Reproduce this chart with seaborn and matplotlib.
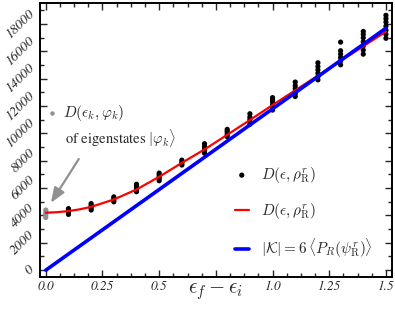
import numpy as np
import pandas as pd
import matplotlib
matplotlib.use("Agg")
import matplotlib.pyplot as plt
from matplotlib.ticker import MultipleLocator, FixedLocator
import seaborn as sns

# scattered D(eps, rho) values, several per energy
dot_x = [0.1] * 5 + [0.2] * 5 + [0.3] * 4 + [0.4] * 5 + [0.5] * 5 + [0.6] * 4 \
    + [0.7] * 5 + [0.8] * 5 + [0.9] * 5 + [1.0] * 6 + [1.1] * 6 + [1.2] * 6 \
    + [1.3] * 6 + [1.4] * 7 + [1.5] * 7
dot_y = [4080, 4200, 4300, 4400, 4500,
         4400, 4520, 4640, 4760, 4870,
         5000, 5120, 5240, 5360,
         5740, 5880, 6020, 6160, 6280,
         6540, 6680, 6820, 6960, 7100,
         7690, 7800, 7920, 8050,
         8550, 8720, 8880, 9050, 9250,
         9760, 9900, 10050, 10180, 10300,
         10670, 10850, 11020, 11200, 11440,
         11710, 11900, 12100, 12300, 12450, 12620,
         12700, 12900, 13100, 13300, 13500, 13760,
         13920, 14150, 14400, 14650, 14900, 15170,
         15020, 15300, 15550, 15800, 16050, 16680,
         15800, 16100, 16400, 16700, 17000, 17250, 17460,
         16960, 17250, 17550, 17850, 18150, 18400, 18640]

# eigenstates at eps = 0
eig_x = [0.0] * 5
eig_y = [3850, 4000, 4150, 4300, 4400]

# smooth red curve
red_x = [0.0, 0.05, 0.1, 0.15, 0.2, 0.3, 0.4, 0.5, 0.6, 0.7, 0.8, 0.9, 1.0, 1.1, 1.2, 1.3, 1.4, 1.5]
red_y = [4200, 4240, 4320, 4450, 4630, 5170, 5900, 6830, 7850, 8830, 9900, 10980,
         12080, 13150, 14230, 15300, 16380, 17450]

# |K| = 6 <P_R> straight line
blue_x = [0.0, 1.5]
blue_y = [0, 17700]

dots = pd.DataFrame({"x": dot_x, "y": dot_y})
eig = pd.DataFrame({"x": eig_x, "y": eig_y})
red = pd.DataFrame({"x": red_x, "y": red_y})
blue = pd.DataFrame({"x": blue_x, "y": blue_y})

sns.set_style("ticks")
plt.rcParams["font.family"] = ["STIXGeneral", "DejaVu Serif"]
plt.rcParams["mathtext.fontset"] = "cm"

fig = plt.figure(figsize=(3.95, 3.16), dpi=100)
ax = fig.add_axes([0.101, 0.123, 0.891, 0.867])

lab_d = r"$D(\epsilon,\rho^{r}_{\rm R})$"
sns.scatterplot(data=dots, x="x", y="y", ax=ax, color="black", s=14,
                edgecolor="none", label=lab_d, zorder=2)
sns.scatterplot(data=eig, x="x", y="y", ax=ax, color="#909090", s=14,
                edgecolor="none", zorder=2)
sns.lineplot(data=red, x="x", y="y", ax=ax, color="#ff0000", lw=1.6,
             label=lab_d, zorder=3)
sns.lineplot(data=blue, x="x", y="y", ax=ax, color="#0000ff", lw=2.6,
             label=r"$|\mathcal{K}| = 6\,\langle P_R(\psi^{r}_{\rm R})\rangle$", zorder=4)

ax.set_xlim(-0.026, 1.526)
ax.set_ylim(-510, 19530)

# annotation for eigenstates
ax.plot([0.026], [11480], "o", color="#909090", ms=2.2)
ax.text(0.075, 11480, r"$D(\epsilon_k,\varphi_k)$", fontsize=11, va="center", ha="left")
ax.text(0.085, 9660, r"of eigenstates $|\varphi_k\rangle$", fontsize=10.5,
        va="center", ha="left")
ax.annotate("", xy=(0.016, 4750), xytext=(0.152, 8300),
            arrowprops=dict(arrowstyle="-|>,head_length=0.9,head_width=0.35",
                            color="#909090", lw=1.6))

# ticks
ax.xaxis.set_major_locator(FixedLocator([0, 0.25, 0.5, 0.75, 1.0, 1.25, 1.5]))
ax.set_xticklabels(["0.0", "0.25", "0.5", "", "1.0", "1.25", "1.5"],
                   fontstyle="italic", fontsize=9.5)
ax.xaxis.set_minor_locator(MultipleLocator(0.0625))
ax.yaxis.set_major_locator(MultipleLocator(2000))
ax.yaxis.set_minor_locator(MultipleLocator(1000))
ax.set_yticks(range(0, 18001, 2000))
ax.set_yticklabels([str(v) for v in range(0, 18001, 2000)], rotation=45,
                   fontsize=10, va="center", ha="right", fontstyle="italic")
ax.tick_params(which="both", direction="in", top=True, right=True, width=1)
ax.tick_params(which="major", length=5, pad=2)
ax.tick_params(which="minor", length=3)
for sp in ax.spines.values():
    sp.set_linewidth(1.4)
    sp.set_color("black")

ax.set_xlabel(r"$\epsilon_f - \epsilon_i$", fontsize=15, labelpad=-8)
ax.set_ylabel("")

leg = ax.legend(loc="center left", bbox_to_anchor=(0.515, 0.235), frameon=False,
                fontsize=11, handlelength=0.9, labelspacing=1.05, handletextpad=0.8,
                markerscale=1.0)

fig.savefig("out.png", dpi=100)
